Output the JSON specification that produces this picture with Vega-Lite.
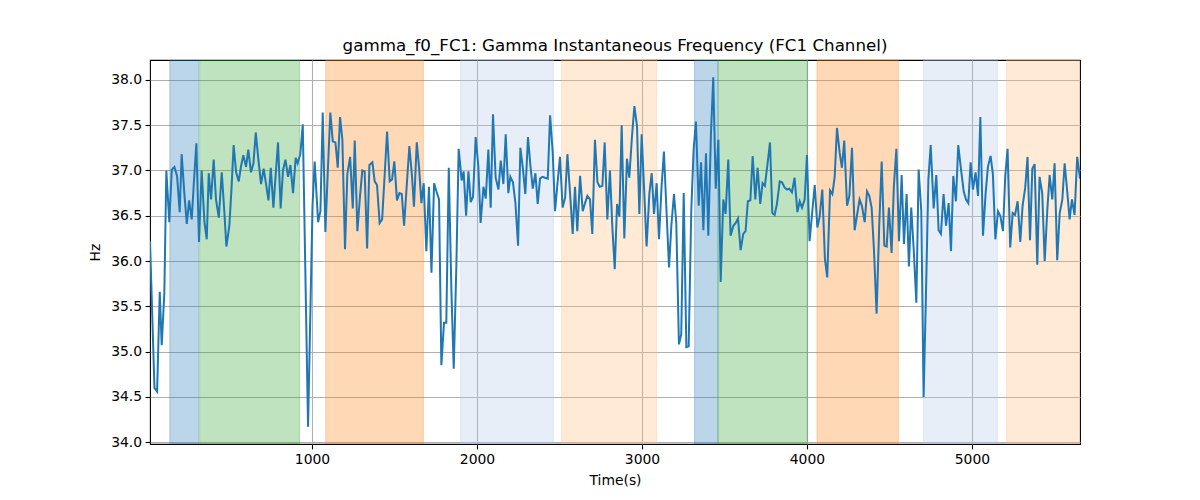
{
  "$schema": "https://vega.github.io/schema/vega-lite/v6.json",
  "width": 930,
  "height": 384,
  "autosize": {"type": "none"},
  "padding": {"left": 150, "top": 60, "right": 120, "bottom": 56},
  "background": "white",
  "title": {
    "text": "gamma_f0_FC1: Gamma Instantaneous Frequency (FC1 Channel)",
    "font": "DejaVu Sans",
    "fontSize": 16.7,
    "fontWeight": "normal",
    "color": "black",
    "anchor": "middle",
    "offset": 5
  },
  "config": {
    "font": "DejaVu Sans",
    "view": {"stroke": "black", "strokeWidth": 1.1},
    "axis": {
      "domain": false,
      "grid": true,
      "gridColor": "#b0b0b0",
      "gridWidth": 1.1,
      "tickColor": "black",
      "tickSize": 4.9,
      "tickWidth": 1.1,
      "labelColor": "black",
      "labelFont": "DejaVu Sans",
      "labelFontSize": 13.9,
      "labelPadding": 3.5,
      "titleColor": "black",
      "titleFont": "DejaVu Sans",
      "titleFontSize": 13.9,
      "titleFontWeight": "normal"
    }
  },
  "datasets": {
    "spans": [
      {"start": 138, "end": 313, "phase": "A"},
      {"start": 319, "end": 924, "phase": "B"},
      {"start": 1083, "end": 1675, "phase": "C"},
      {"start": 1901, "end": 2463, "phase": "D"},
      {"start": 2513, "end": 3089, "phase": "E"},
      {"start": 3319, "end": 3461, "phase": "A"},
      {"start": 3461, "end": 4002, "phase": "B"},
      {"start": 4061, "end": 4554, "phase": "C"},
      {"start": 4707, "end": 5154, "phase": "D"},
      {"start": 5210, "end": 5700, "phase": "E"}
    ],
    "series": [
      {"t": 18, "hz": 36.22}, {"t": 45, "hz": 34.6}, {"t": 61, "hz": 34.56}, {"t": 77, "hz": 35.66},
      {"t": 89, "hz": 35.07}, {"t": 105, "hz": 35.65}, {"t": 117, "hz": 37.0}, {"t": 135, "hz": 36.43},
      {"t": 150, "hz": 37.01}, {"t": 166, "hz": 37.04}, {"t": 182, "hz": 36.94}, {"t": 198, "hz": 36.54},
      {"t": 210, "hz": 37.18}, {"t": 226, "hz": 36.75}, {"t": 241, "hz": 36.41}, {"t": 255, "hz": 36.67},
      {"t": 271, "hz": 36.46}, {"t": 285, "hz": 36.9}, {"t": 299, "hz": 37.3}, {"t": 315, "hz": 36.21},
      {"t": 331, "hz": 37.0}, {"t": 348, "hz": 36.43}, {"t": 362, "hz": 36.24}, {"t": 374, "hz": 36.97},
      {"t": 388, "hz": 36.68}, {"t": 404, "hz": 37.12}, {"t": 418, "hz": 36.68}, {"t": 435, "hz": 36.48},
      {"t": 453, "hz": 36.98}, {"t": 469, "hz": 36.53}, {"t": 481, "hz": 36.16}, {"t": 499, "hz": 36.39},
      {"t": 512, "hz": 36.8}, {"t": 525, "hz": 37.28}, {"t": 540, "hz": 36.98}, {"t": 556, "hz": 36.88},
      {"t": 570, "hz": 37.05}, {"t": 584, "hz": 37.17}, {"t": 600, "hz": 37.04}, {"t": 614, "hz": 37.23},
      {"t": 630, "hz": 36.98}, {"t": 645, "hz": 37.08}, {"t": 659, "hz": 37.42}, {"t": 675, "hz": 37.12},
      {"t": 691, "hz": 36.85}, {"t": 707, "hz": 37.02}, {"t": 723, "hz": 36.83}, {"t": 736, "hz": 36.67},
      {"t": 750, "hz": 37.03}, {"t": 766, "hz": 36.59}, {"t": 780, "hz": 36.96}, {"t": 794, "hz": 37.31},
      {"t": 810, "hz": 36.58}, {"t": 824, "hz": 37.0}, {"t": 839, "hz": 37.12}, {"t": 855, "hz": 36.93},
      {"t": 869, "hz": 37.06}, {"t": 885, "hz": 36.75}, {"t": 901, "hz": 37.14}, {"t": 913, "hz": 37.08},
      {"t": 929, "hz": 37.18}, {"t": 944, "hz": 37.51}, {"t": 976, "hz": 34.17}, {"t": 1003, "hz": 36.6},
      {"t": 1016, "hz": 37.1}, {"t": 1037, "hz": 36.43}, {"t": 1051, "hz": 36.55}, {"t": 1065, "hz": 37.64},
      {"t": 1081, "hz": 36.32}, {"t": 1096, "hz": 37.0}, {"t": 1111, "hz": 37.64}, {"t": 1126, "hz": 37.32},
      {"t": 1142, "hz": 37.31}, {"t": 1156, "hz": 37.03}, {"t": 1170, "hz": 37.59}, {"t": 1184, "hz": 37.34},
      {"t": 1200, "hz": 36.13}, {"t": 1214, "hz": 36.96}, {"t": 1231, "hz": 37.15}, {"t": 1247, "hz": 36.58},
      {"t": 1259, "hz": 37.33}, {"t": 1275, "hz": 36.33}, {"t": 1291, "hz": 36.72}, {"t": 1305, "hz": 37.0},
      {"t": 1319, "hz": 36.99}, {"t": 1334, "hz": 36.14}, {"t": 1348, "hz": 37.06}, {"t": 1366, "hz": 37.09},
      {"t": 1380, "hz": 36.88}, {"t": 1394, "hz": 36.84}, {"t": 1410, "hz": 36.42}, {"t": 1425, "hz": 36.46},
      {"t": 1441, "hz": 36.97}, {"t": 1455, "hz": 37.43}, {"t": 1471, "hz": 36.88}, {"t": 1485, "hz": 36.9},
      {"t": 1499, "hz": 37.1}, {"t": 1515, "hz": 36.67}, {"t": 1530, "hz": 36.75}, {"t": 1544, "hz": 36.74},
      {"t": 1558, "hz": 36.39}, {"t": 1574, "hz": 36.83}, {"t": 1590, "hz": 37.27}, {"t": 1606, "hz": 36.94},
      {"t": 1618, "hz": 36.6}, {"t": 1635, "hz": 37.31}, {"t": 1649, "hz": 37.03}, {"t": 1663, "hz": 36.64},
      {"t": 1677, "hz": 36.86}, {"t": 1693, "hz": 36.11}, {"t": 1709, "hz": 36.82}, {"t": 1724, "hz": 35.87},
      {"t": 1740, "hz": 36.86}, {"t": 1754, "hz": 36.77}, {"t": 1770, "hz": 36.68}, {"t": 1784, "hz": 34.85},
      {"t": 1800, "hz": 35.32}, {"t": 1814, "hz": 35.32}, {"t": 1829, "hz": 37.03}, {"t": 1845, "hz": 35.66},
      {"t": 1859, "hz": 34.81}, {"t": 1875, "hz": 35.95}, {"t": 1889, "hz": 37.24}, {"t": 1907, "hz": 36.89},
      {"t": 1919, "hz": 36.99}, {"t": 1934, "hz": 36.5}, {"t": 1948, "hz": 36.99}, {"t": 1962, "hz": 36.65},
      {"t": 1976, "hz": 36.71}, {"t": 1992, "hz": 37.37}, {"t": 2008, "hz": 37.05}, {"t": 2022, "hz": 36.42},
      {"t": 2039, "hz": 36.82}, {"t": 2053, "hz": 36.69}, {"t": 2069, "hz": 37.23}, {"t": 2083, "hz": 36.59},
      {"t": 2097, "hz": 37.62}, {"t": 2113, "hz": 36.92}, {"t": 2130, "hz": 36.79}, {"t": 2144, "hz": 37.11},
      {"t": 2160, "hz": 36.85}, {"t": 2174, "hz": 37.4}, {"t": 2190, "hz": 36.75}, {"t": 2202, "hz": 36.93},
      {"t": 2218, "hz": 36.87}, {"t": 2233, "hz": 36.64}, {"t": 2249, "hz": 36.17}, {"t": 2263, "hz": 37.25},
      {"t": 2279, "hz": 37.01}, {"t": 2293, "hz": 36.74}, {"t": 2309, "hz": 37.37}, {"t": 2324, "hz": 37.05},
      {"t": 2338, "hz": 36.8}, {"t": 2354, "hz": 36.97}, {"t": 2368, "hz": 36.63}, {"t": 2382, "hz": 36.91},
      {"t": 2396, "hz": 36.93}, {"t": 2412, "hz": 36.92}, {"t": 2429, "hz": 36.91}, {"t": 2443, "hz": 37.61},
      {"t": 2459, "hz": 37.2}, {"t": 2473, "hz": 36.55}, {"t": 2489, "hz": 36.88}, {"t": 2503, "hz": 37.15},
      {"t": 2519, "hz": 36.59}, {"t": 2534, "hz": 36.7}, {"t": 2548, "hz": 37.18}, {"t": 2564, "hz": 36.75},
      {"t": 2580, "hz": 36.3}, {"t": 2594, "hz": 36.82}, {"t": 2608, "hz": 36.33}, {"t": 2625, "hz": 36.94},
      {"t": 2641, "hz": 36.55}, {"t": 2655, "hz": 36.64}, {"t": 2669, "hz": 36.72}, {"t": 2685, "hz": 36.68},
      {"t": 2699, "hz": 36.3}, {"t": 2715, "hz": 37.34}, {"t": 2730, "hz": 36.87}, {"t": 2744, "hz": 36.82},
      {"t": 2760, "hz": 36.83}, {"t": 2774, "hz": 37.31}, {"t": 2790, "hz": 36.46}, {"t": 2806, "hz": 37.0},
      {"t": 2820, "hz": 36.39}, {"t": 2835, "hz": 35.91}, {"t": 2849, "hz": 36.63}, {"t": 2863, "hz": 36.49},
      {"t": 2877, "hz": 37.5}, {"t": 2893, "hz": 36.25}, {"t": 2909, "hz": 37.13}, {"t": 2923, "hz": 36.92},
      {"t": 2940, "hz": 37.39}, {"t": 2954, "hz": 37.71}, {"t": 2970, "hz": 37.49}, {"t": 2984, "hz": 36.52},
      {"t": 2998, "hz": 37.4}, {"t": 3014, "hz": 36.75}, {"t": 3028, "hz": 36.16}, {"t": 3045, "hz": 36.75},
      {"t": 3059, "hz": 36.97}, {"t": 3073, "hz": 36.52}, {"t": 3089, "hz": 36.86}, {"t": 3103, "hz": 36.24},
      {"t": 3119, "hz": 36.83}, {"t": 3133, "hz": 37.21}, {"t": 3150, "hz": 36.5}, {"t": 3164, "hz": 35.93},
      {"t": 3178, "hz": 36.39}, {"t": 3194, "hz": 36.74}, {"t": 3208, "hz": 36.42}, {"t": 3224, "hz": 35.08},
      {"t": 3238, "hz": 35.19}, {"t": 3253, "hz": 36.75}, {"t": 3269, "hz": 35.05}, {"t": 3283, "hz": 35.06},
      {"t": 3299, "hz": 36.57}, {"t": 3313, "hz": 37.23}, {"t": 3327, "hz": 37.54}, {"t": 3344, "hz": 36.61},
      {"t": 3358, "hz": 37.09}, {"t": 3372, "hz": 36.34}, {"t": 3388, "hz": 37.19}, {"t": 3402, "hz": 36.28},
      {"t": 3418, "hz": 37.4}, {"t": 3432, "hz": 38.03}, {"t": 3447, "hz": 36.8}, {"t": 3463, "hz": 37.34},
      {"t": 3477, "hz": 35.77}, {"t": 3493, "hz": 36.68}, {"t": 3507, "hz": 36.52}, {"t": 3523, "hz": 37.12},
      {"t": 3537, "hz": 36.28}, {"t": 3554, "hz": 36.39}, {"t": 3568, "hz": 36.42}, {"t": 3582, "hz": 36.47},
      {"t": 3598, "hz": 36.12}, {"t": 3614, "hz": 36.3}, {"t": 3628, "hz": 36.33}, {"t": 3642, "hz": 36.66},
      {"t": 3657, "hz": 36.67}, {"t": 3671, "hz": 37.16}, {"t": 3687, "hz": 36.68}, {"t": 3701, "hz": 37.03},
      {"t": 3717, "hz": 36.63}, {"t": 3731, "hz": 36.86}, {"t": 3745, "hz": 36.83}, {"t": 3762, "hz": 37.09},
      {"t": 3776, "hz": 37.31}, {"t": 3790, "hz": 36.53}, {"t": 3804, "hz": 36.51}, {"t": 3818, "hz": 36.63},
      {"t": 3835, "hz": 36.88}, {"t": 3849, "hz": 36.87}, {"t": 3865, "hz": 36.81}, {"t": 3879, "hz": 36.79},
      {"t": 3893, "hz": 36.8}, {"t": 3909, "hz": 36.76}, {"t": 3925, "hz": 36.92}, {"t": 3942, "hz": 36.54},
      {"t": 3956, "hz": 36.66}, {"t": 3970, "hz": 36.59}, {"t": 3986, "hz": 36.68}, {"t": 4000, "hz": 37.17},
      {"t": 4016, "hz": 36.22}, {"t": 4030, "hz": 36.5}, {"t": 4047, "hz": 36.84}, {"t": 4063, "hz": 36.37},
      {"t": 4077, "hz": 36.49}, {"t": 4093, "hz": 36.79}, {"t": 4109, "hz": 36.02}, {"t": 4123, "hz": 35.82},
      {"t": 4140, "hz": 36.78}, {"t": 4154, "hz": 36.74}, {"t": 4168, "hz": 36.93}, {"t": 4182, "hz": 37.47},
      {"t": 4198, "hz": 37.2}, {"t": 4212, "hz": 37.03}, {"t": 4226, "hz": 37.33}, {"t": 4243, "hz": 36.61},
      {"t": 4257, "hz": 36.72}, {"t": 4273, "hz": 37.25}, {"t": 4289, "hz": 36.34}, {"t": 4303, "hz": 36.5},
      {"t": 4319, "hz": 36.68}, {"t": 4333, "hz": 36.61}, {"t": 4350, "hz": 36.43}, {"t": 4364, "hz": 36.77},
      {"t": 4378, "hz": 36.72}, {"t": 4392, "hz": 36.59}, {"t": 4406, "hz": 36.13}, {"t": 4422, "hz": 35.42},
      {"t": 4438, "hz": 36.39}, {"t": 4453, "hz": 37.1}, {"t": 4469, "hz": 36.17}, {"t": 4483, "hz": 36.16},
      {"t": 4497, "hz": 36.59}, {"t": 4513, "hz": 36.09}, {"t": 4527, "hz": 36.83}, {"t": 4542, "hz": 37.24},
      {"t": 4558, "hz": 36.22}, {"t": 4574, "hz": 36.95}, {"t": 4588, "hz": 36.19}, {"t": 4604, "hz": 36.74},
      {"t": 4618, "hz": 35.94}, {"t": 4632, "hz": 36.59}, {"t": 4647, "hz": 36.13}, {"t": 4663, "hz": 35.54},
      {"t": 4677, "hz": 37.01}, {"t": 4693, "hz": 36.55}, {"t": 4707, "hz": 34.5}, {"t": 4721, "hz": 35.6},
      {"t": 4736, "hz": 36.9}, {"t": 4750, "hz": 37.28}, {"t": 4768, "hz": 36.58}, {"t": 4784, "hz": 36.95},
      {"t": 4798, "hz": 36.34}, {"t": 4812, "hz": 36.3}, {"t": 4828, "hz": 36.74}, {"t": 4843, "hz": 36.39},
      {"t": 4859, "hz": 36.64}, {"t": 4873, "hz": 36.11}, {"t": 4887, "hz": 36.94}, {"t": 4903, "hz": 36.66},
      {"t": 4917, "hz": 37.28}, {"t": 4934, "hz": 37.01}, {"t": 4950, "hz": 36.77}, {"t": 4964, "hz": 36.68},
      {"t": 4978, "hz": 36.64}, {"t": 4992, "hz": 37.09}, {"t": 5006, "hz": 36.79}, {"t": 5022, "hz": 36.98},
      {"t": 5037, "hz": 36.72}, {"t": 5051, "hz": 37.59}, {"t": 5067, "hz": 36.28}, {"t": 5083, "hz": 36.75},
      {"t": 5097, "hz": 37.04}, {"t": 5113, "hz": 37.16}, {"t": 5127, "hz": 36.96}, {"t": 5142, "hz": 36.24},
      {"t": 5158, "hz": 36.55}, {"t": 5172, "hz": 36.5}, {"t": 5188, "hz": 36.33}, {"t": 5202, "hz": 36.94},
      {"t": 5216, "hz": 37.24}, {"t": 5232, "hz": 36.15}, {"t": 5247, "hz": 36.53}, {"t": 5261, "hz": 36.51},
      {"t": 5277, "hz": 36.66}, {"t": 5293, "hz": 36.21}, {"t": 5307, "hz": 36.61}, {"t": 5323, "hz": 36.81},
      {"t": 5337, "hz": 37.15}, {"t": 5352, "hz": 36.23}, {"t": 5366, "hz": 37.02}, {"t": 5380, "hz": 37.07},
      {"t": 5396, "hz": 35.96}, {"t": 5410, "hz": 36.93}, {"t": 5426, "hz": 36.75}, {"t": 5441, "hz": 36.0},
      {"t": 5457, "hz": 36.57}, {"t": 5471, "hz": 36.95}, {"t": 5487, "hz": 36.68}, {"t": 5501, "hz": 37.08},
      {"t": 5517, "hz": 36.01}, {"t": 5532, "hz": 36.53}, {"t": 5548, "hz": 36.68}, {"t": 5562, "hz": 37.08},
      {"t": 5578, "hz": 36.76}, {"t": 5592, "hz": 36.46}, {"t": 5606, "hz": 36.68}, {"t": 5622, "hz": 36.51},
      {"t": 5638, "hz": 37.15}, {"t": 5655, "hz": 36.91}
    ]
  },
  "layer": [
    {
      "data": {"name": "spans"},
      "mark": {"type": "rect", "fillOpacity": 0.3, "strokeOpacity": 0.3, "strokeWidth": 1, "clip": true},
      "encoding": {
        "x": {"field": "start", "type": "quantitative"},
        "x2": {"field": "end"},
        "fill": {
          "field": "phase",
          "type": "nominal",
          "legend": null,
          "scale": {"domain": ["A", "B", "C", "D", "E"], "range": ["#1f77b4", "#2ca02c", "#ff7f0e", "#aec7e8", "#ffbb78"]}
        },
        "stroke": {
          "field": "phase",
          "type": "nominal",
          "legend": null,
          "scale": {"domain": ["A", "B", "C", "D", "E"], "range": ["#1f77b4", "#2ca02c", "#ff7f0e", "#aec7e8", "#ffbb78"]}
        }
      }
    },
    {
      "data": {"name": "series"},
      "mark": {"type": "line", "color": "#1f77b4", "strokeWidth": 2, "clip": true},
      "encoding": {
        "x": {
          "field": "t",
          "type": "quantitative",
          "title": "Time(s)",
          "scale": {"domain": [18, 5655], "nice": false, "zero": false},
          "axis": {"values": [1000, 2000, 3000, 4000, 5000], "format": "d", "titlePadding": 7}
        },
        "y": {
          "field": "hz",
          "type": "quantitative",
          "title": "Hz",
          "scale": {"domain": [33.98, 38.22], "nice": false, "zero": false},
          "axis": {"values": [34, 34.5, 35, 35.5, 36, 36.5, 37, 37.5, 38], "format": ".1f", "titlePadding": 8}
        }
      }
    }
  ]
}
